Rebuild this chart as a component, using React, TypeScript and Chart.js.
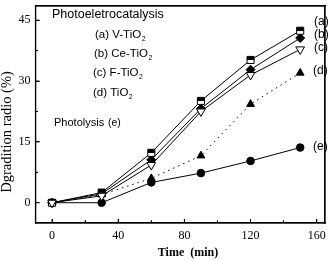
import React, { useEffect, useRef } from "react";
import { Chart, registerables } from "chart.js";

Chart.register(...registerables);

const times = [0, 30, 60, 90, 120, 150];
const seriesA = [0, 2.5, 12.3, 25.1, 35.2, 42.4]; // V-TiO2
const seriesB = [0, 2.2, 10.6, 23.2, 32.8, 40.6]; // Ce-TiO2
const seriesC = [0, 1.7, 9.3, 22.5, 31.5, 37.8]; // F-TiO2
const seriesD = [0, 2.0, 6.0, 11.6, 24.3, 32.0]; // TiO2
const seriesE = [0, 0, 5.0, 7.3, 10.3, 13.6]; // Photolysis

const X_MIN = -10;
const X_MAX = 165;
const Y_MIN = -5;
const Y_MAX = 48.5;
const xMajorTicks = [0, 40, 80, 120, 160];
const xMinorTicks = [20, 60, 100, 140];
const yMajorTicks = [0, 15, 30, 45];
const yMinorTicks = [7.5, 22.5, 37.5];

const SANS = "'Liberation Sans', Arial, sans-serif";
const SERIF = "'Liberation Serif', 'Times New Roman', serif";
const CLEAR = "rgba(0,0,0,0)";

function toPoints(vals: number[]) {
  return times.map((t, i) => ({ x: t, y: vals[i] }));
}

function drawSub(ctx: CanvasRenderingContext2D, main: string, sub: string, x: number, y: number, size: number) {
  ctx.font = `${size}px ${SANS}`;
  ctx.fillText(main, x, y);
  const w = ctx.measureText(main).width;
  ctx.font = `${size * 0.6}px ${SANS}`;
  ctx.fillText(sub, x + w + 0.5, y + 3);
}

const textPlugin = {
  id: "textPlugin",
  afterDraw(chart: any) {
    const ctx: CanvasRenderingContext2D = chart.ctx;
    const xs = chart.scales.x;
    const ys = chart.scales.y;
    const L = Number(xs.getPixelForValue(X_MIN));
    const R = Number(xs.getPixelForValue(X_MAX));
    const T = Number(ys.getPixelForValue(Y_MAX));
    const B = Number(ys.getPixelForValue(Y_MIN));
    ctx.save();
    ctx.fillStyle = "#000";
    ctx.fillRect(L - 0.6, T - 0.6, R - L + 1.2, 1.2);
    ctx.fillRect(L - 0.6, B - 0.6, R - L + 1.2, 1.2);
    ctx.fillRect(L - 0.6, T - 0.6, 1.2, B - T + 1.2);
    ctx.fillRect(R - 0.6, T - 0.6, 1.2, B - T + 1.2);
    xMajorTicks.forEach((v) => ctx.fillRect(Number(xs.getPixelForValue(v)) - 0.5, B - 4, 1, 4));
    xMinorTicks.forEach((v) => ctx.fillRect(Number(xs.getPixelForValue(v)) - 0.5, B - 2.5, 1, 2.5));
    yMajorTicks.forEach((v) => ctx.fillRect(L, Number(ys.getPixelForValue(v)) - 0.5, 4, 1));
    yMinorTicks.forEach((v) => ctx.fillRect(L, Number(ys.getPixelForValue(v)) - 0.5, 2.5, 1));

    ctx.textAlign = "left";
    ctx.textBaseline = "alphabetic";
    ctx.font = `12.5px ${SANS}`;
    ctx.fillText("Photoeletrocatalysis", 52, 18);
    drawSub(ctx, "(a) V-TiO", "2", 95, 37.5, 11.5);
    drawSub(ctx, "(b) Ce-TiO", "2", 94, 57, 11.5);
    drawSub(ctx, "(c) F-TiO", "2", 93, 76, 11.5);
    drawSub(ctx, "(d) TiO", "2", 93, 96, 11.5);
    ctx.font = `11px ${SANS}`;
    ctx.fillText("Photolysis", 54, 126);
    ctx.font = `10.5px ${SANS}`;
    ctx.fillText("(e)", 108, 126);

    ctx.font = `12px ${SANS}`;
    ctx.textBaseline = "middle";
    ctx.fillText("(a)", 314, 22);
    ctx.fillText("(b)", 314, 34.5);
    ctx.fillText("(c)", 314, 47.5);
    ctx.fillText("(d)", 313, 71);
    ctx.fillText("(e)", 313, 147);

    ctx.font = `bold 12px ${SERIF}`;
    ctx.textAlign = "center";
    ctx.fillText("Time  (min)", 188, 253);

    ctx.save();
    ctx.translate(7.5, 132);
    ctx.rotate(-Math.PI / 2);
    ctx.font = `14.5px ${SERIF}`;
    ctx.fillText("Dgradition radio (%)", 0, 0);
    ctx.restore();
    ctx.restore();
  },
};

function zeroPad(s: any) {
  s.paddingLeft = 0;
  s.paddingRight = 0;
  s.paddingTop = 0;
  s.paddingBottom = 0;
}

function markAxis(axis: "x" | "y", position: string, ticksArr: number[], tickLength: number, showBorder: boolean) {
  const horizontal = axis === "x";
  return {
    type: "linear",
    axis,
    position,
    weight: 0,
    min: horizontal ? X_MIN : Y_MIN,
    max: horizontal ? X_MAX : Y_MAX,
    afterBuildTicks: (s: any) => {
      s.ticks = ticksArr.map((v) => ({ value: v }));
    },
    afterFit: (s: any) => {
      if (horizontal) s.height = 0;
      else s.width = 0;
      zeroPad(s);
    },
    grid: {
      display: ticksArr.length > 0,
      drawOnChartArea: false,
      drawTicks: true,
      tickLength,
      tickColor: "#000",
      tickWidth: 1,
      color: CLEAR,
    },
    border: { display: showBorder, color: "#000", width: 1.2 },
    ticks: { display: false },
  };
}

function halfSquareFill(c: any) {
  if (!c || !c.parsed || !c.chart || !c.chart.scales || !c.chart.scales.y) return "#fff";
  const py = Number(c.chart.scales.y.getPixelForValue(c.parsed.y));
  if (!isFinite(py)) return "#fff";
  const g = c.chart.ctx.createLinearGradient(0, py - 4, 0, py + 4);
  g.addColorStop(0, "#000");
  g.addColorStop(0.5, "#000");
  g.addColorStop(0.5, "#fff");
  g.addColorStop(1, "#fff");
  return g;
}

export default function App() {
  const ref = useRef<HTMLCanvasElement>(null);
  useEffect(() => {
    if (!ref.current) return;
    const base = {
      borderColor: "#000",
      borderWidth: 1,
      pointBorderColor: "#000",
      pointBorderWidth: 1,
      fill: false,
      tension: 0,
      xAxisID: "x",
      yAxisID: "y",
    };
    const chart = new Chart(ref.current, {
      type: "line",
      data: {
        datasets: [
          { ...base, label: "(a) V-TiO2", data: toPoints(seriesA), pointStyle: "rect", pointRadius: 5, pointBackgroundColor: halfSquareFill as any, order: 1 },
          { ...base, label: "(b) Ce-TiO2", data: toPoints(seriesB), pointStyle: "rectRot", pointRadius: 4.5, pointBackgroundColor: "#000", order: 2 },
          { ...base, label: "(c) F-TiO2", data: toPoints(seriesC), pointStyle: "triangle", rotation: 180, pointRadius: 5, pointBackgroundColor: "#fff", order: 0 },
          { ...base, label: "(d) TiO2", data: toPoints(seriesD), borderDash: [1.5, 4], pointStyle: "triangle", pointRadius: 4.5, pointBackgroundColor: "#000", order: 3 },
          { ...base, label: "(e) Photolysis", data: toPoints(seriesE), pointStyle: "circle", pointRadius: 3.8, pointBackgroundColor: "#000", order: 4 },
        ],
      },
      options: {
        responsive: false,
        animation: false,
        devicePixelRatio: 1,
        layout: { padding: { top: 1, right: 1, left: 0, bottom: 0 } },
        plugins: { legend: { display: false }, tooltip: { enabled: false } },
        scales: {
          x: {
            type: "linear",
            axis: "x",
            position: "bottom",
            weight: 1,
            min: X_MIN,
            max: X_MAX,
            grid: { display: true, drawOnChartArea: false, drawTicks: true, tickLength: 6, tickColor: CLEAR, color: CLEAR },
            border: { display: false },
            afterBuildTicks: (s: any) => {
              s.ticks = xMajorTicks.map((v) => ({ value: v }));
            },
            afterFit: (s: any) => {
              s.height = 38;
              zeroPad(s);
            },
            ticks: { color: "#000", padding: 0, font: { family: SERIF, size: 12 }, maxRotation: 0, autoSkip: false },
          },
          xT: markAxis("x", "bottom", xMajorTicks, -4, true),
          xm: markAxis("x", "bottom", xMinorTicks, -2.5, false),
          x2: markAxis("x", "top", [], 0, true),
          y: {
            type: "linear",
            axis: "y",
            position: "left",
            weight: 1,
            min: Y_MIN,
            max: Y_MAX,
            grid: { display: true, drawOnChartArea: false, drawTicks: true, tickLength: 5, tickColor: CLEAR, color: CLEAR },
            border: { display: false },
            afterBuildTicks: (s: any) => {
              s.ticks = yMajorTicks.map((v) => ({ value: v }));
            },
            afterFit: (s: any) => {
              s.width = 35.5;
              zeroPad(s);
            },
            ticks: { color: "#000", padding: 0, font: { family: SERIF, size: 12 } },
          },
          yT: markAxis("y", "left", yMajorTicks, -4, true),
          ym: markAxis("y", "left", yMinorTicks, -2.5, false),
          y2: markAxis("y", "right", [], 0, true),
        } as any,
      },
      plugins: [textPlugin],
    });
    return () => chart.destroy();
  }, []);
  return (
    <div style={{ position: "fixed", left: 0, top: 0, width: 331, height: 261, background: "#fff" }}>
      <canvas ref={ref} width={331} height={261} />
    </div>
  );
}
